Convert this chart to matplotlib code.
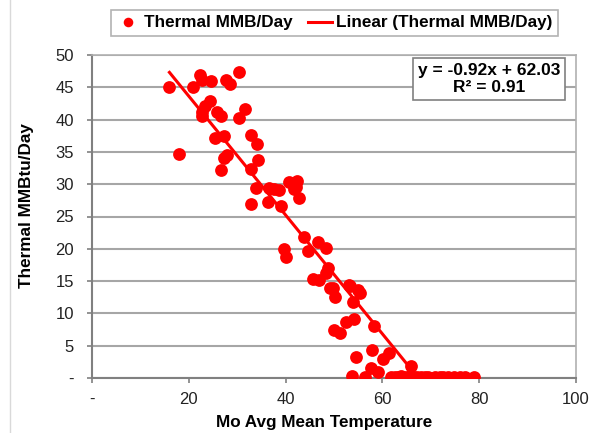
import matplotlib
matplotlib.use("Agg")
import matplotlib.pyplot as plt
from matplotlib.ticker import FuncFormatter
from matplotlib.lines import Line2D
import numpy as np

# Data
temp = [16.0, 18.0, 20.9, 22.4, 22.8, 24.6, 27.6, 28.6, 30.4,
        24.3, 23.4, 22.8, 22.8, 25.9, 26.6, 31.6, 30.4,
        25.4, 27.2, 32.8, 34.0, 27.8, 27.2, 34.3, 26.7, 32.9,
        33.8, 36.6, 38.7, 40.7, 42.3, 42.1, 42.8, 32.9, 36.4, 39.1,
        37.5, 41.8,
        43.8, 46.6, 48.3, 39.7, 40.0, 44.7, 48.7, 48.3, 45.6, 47.0,
        49.2, 53.2, 55.0, 49.7, 50.2, 53.4, 55.3, 53.9, 54.2, 52.5,
        51.3, 50.1, 58.2, 57.8, 61.3, 60.1, 54.6, 57.7, 59.1, 53.7,
        56.4, 66.0,
        61.8, 62.5, 63.2, 63.9, 64.5, 65.2, 65.8, 66.5, 67.2, 68.0,
        68.8, 69.5, 70.8, 71.8, 72.5, 73.5, 74.8, 76.0, 77.0, 79.0]
thermal = [45.1, 34.6, 45.0, 46.9, 46.1, 46.0, 46.2, 45.5, 47.3,
           42.9, 42.1, 41.2, 40.5, 41.2, 40.5, 41.7, 40.3,
           37.2, 37.5, 37.6, 36.2, 34.5, 34.0, 33.8, 32.2, 32.4,
           29.4, 29.4, 29.1, 30.4, 30.5, 29.5, 27.8, 27.0, 27.2, 26.6,
           29.2, 29.3,
           21.9, 21.1, 20.1, 19.9, 18.7, 19.6, 17.0, 16.2, 15.4, 15.2,
           14.0, 14.4, 13.6, 13.9, 12.6, 14.2, 13.1, 11.8, 9.2, 8.6,
           7.0, 7.4, 8.0, 4.3, 3.8, 3.0, 3.2, 1.5, 1.0, 0.3,
           0.2, 1.8,
           0.2, 0.1, 0.2, 0.3, 0.2, 0.1, 0.3, 0.2, 0.1, 0.2,
           0.1, 0.2, 0.1, 0.2, 0.1, 0.1, 0.2, 0.1, 0.1, 0.1]
slope = -0.92
intercept = 62.03
r2 = 0.91
x_ticks = [0, 20, 40, 60, 80, 100]
y_ticks = [0, 5, 10, 15, 20, 25, 30, 35, 40, 45, 50]

plt.rcParams['font.family'] = ['Liberation Sans', 'DejaVu Sans']

W, H = 603, 433
fig = plt.figure(figsize=(W/100, H/100), dpi=100)
L, R, T, B = 92, 576, 55, 378
ax = fig.add_axes([L/W, 1 - B/H, (R-L)/W, (B-T)/H])

red = '#ff0000'
ax.plot(temp, thermal, 'o', color=red, markersize=9.2, markeredgewidth=0,
        label='Thermal MMB/Day', zorder=3)
xs = np.array([min(temp), max(temp)])
ax.plot(xs, slope * xs + intercept, '-', color=red, lw=2.2,
        label='Linear (Thermal MMB/Day)', zorder=4)

ax.set_xlim(0, 100)
ax.set_ylim(0, 50)
ax.set_xticks(x_ticks)
ax.set_yticks(y_ticks)
fmt = FuncFormatter(lambda v, p: '-' if v == 0 else f'{v:g}')
ax.xaxis.set_major_formatter(fmt)
ax.yaxis.set_major_formatter(fmt)
ax.tick_params(labelsize=12, colors='#222222', length=3.6, width=1.2,
               color='#808080')
ax.tick_params(axis='x', pad=6.3)
ax.tick_params(axis='y', pad=9.5)
ax.yaxis.grid(True, color='#a6a6a6', lw=1.5)
ax.set_axisbelow(True)
for s in ['left', 'bottom']:
    ax.spines[s].set_color('#808080')
    ax.spines[s].set_linewidth(1.5)
for s in ['top', 'right']:
    ax.spines[s].set_color('#b0b0b0')
    ax.spines[s].set_linewidth(1.2)

ax.set_xlabel('Mo Avg Mean Temperature', fontsize=12.3, fontweight='bold')
ax.xaxis.set_label_coords((324 - L)/(R - L), -(423 - B)/(B - T))
ax.xaxis.label.set_va('center')
ax.set_ylabel('Thermal MMBtu/Day', fontsize=12.3, fontweight='bold')
ax.yaxis.set_label_coords((27 - L)/(R - L), (B - 206)/(B - T))
ax.yaxis.label.set_va('center')

leg = fig.legend(loc='center', bbox_to_anchor=(334/W, 1 - 23/H),
                 ncol=2, frameon=True, fancybox=False,
                 prop={'weight': 'bold', 'size': 12.3},
                 handlelength=1.4, columnspacing=0.9, handletextpad=0.25,
                 borderpad=0.3, borderaxespad=0, markerscale=0.75)
leg.get_frame().set_edgecolor('#a0a0a0')
leg.get_frame().set_linewidth(1.2)

ax.text(489/W, 1 - 79/H, f'y = {slope:.2f}x + {intercept:.2f}\nR\u00b2 = {r2:.2f}',
        transform=fig.transFigure, ha='center', va='center', fontsize=12.5,
        fontweight='bold', linespacing=1.12,
        bbox=dict(boxstyle='square,pad=0.28', fc='white', ec='#808080', lw=1.2),
        zorder=5)

fig.add_artist(Line2D([10/W, 10/W], [0, 1], transform=fig.transFigure,
                      color='#d9d9d9', lw=1))

fig.savefig('out.png', dpi=100)
